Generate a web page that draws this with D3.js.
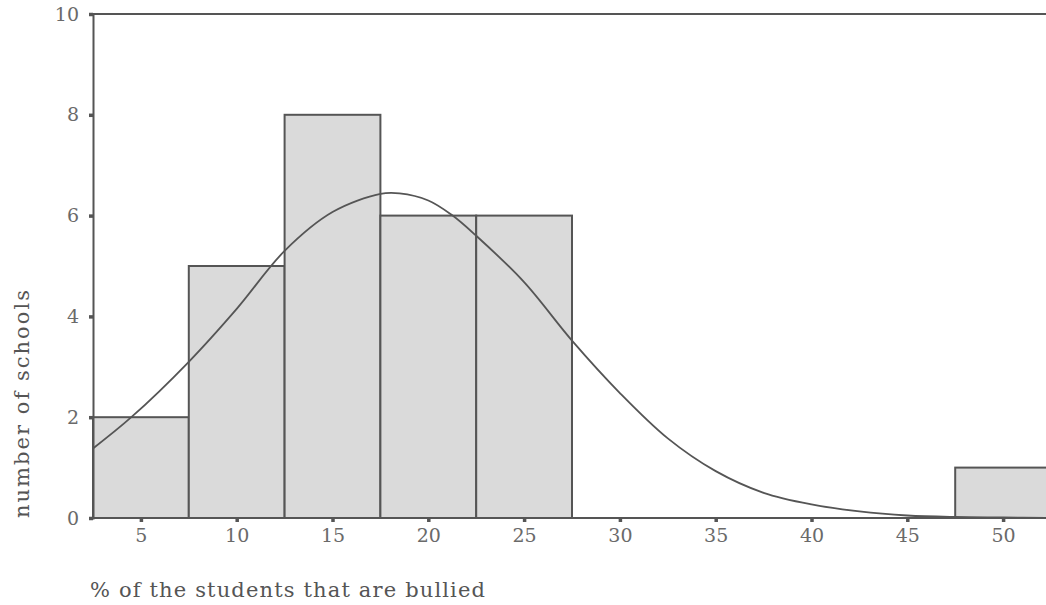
<!DOCTYPE html>
<html>
<head>
<meta charset="utf-8">
<script src="https://cdn.jsdelivr.net/npm/d3@7"></script>
<style>
  body { margin: 0; background: #fff; }
  svg { display: block; }
  text { font-family: "DejaVu Serif", serif; }
</style>
</head>
<body>
<div id="chart"></div>
<script>
// histogram bins (lower edge, number of schools)
var binStarts = [2.5, 7.5, 12.5, 17.5, 22.5, 27.5, 32.5, 37.5, 42.5, 47.5];
var binCounts = [2, 5, 8, 6, 6, 0, 0, 0, 0, 1];
var binWidth = 5;

// fitted normal curve
var curveX = [2.5, 4.5, 7.5, 10, 12.5, 15, 17.5, 18.5, 20, 21.2, 22.5, 25, 27.5, 30, 32.5, 35, 37.5, 40, 42.5, 45, 47.5, 50, 52.5];
var curveY = [1.38, 2.0, 3.1, 4.15, 5.3, 6.07, 6.43, 6.44, 6.3, 6.02, 5.6, 4.68, 3.52, 2.48, 1.58, 0.93, 0.5, 0.27, 0.13, 0.05, 0.02, 0.01, 0];

var xTicks = [5, 10, 15, 20, 25, 30, 35, 40, 45, 50];
var yTicks = [0, 2, 4, 6, 8, 10];

var width = 1046, height = 605;
var margin = {top: 14, left: 93, bottom: 87};

var svg = d3.select("#chart").append("svg")
    .attr("width", width)
    .attr("height", height);

var x = d3.scaleLinear().domain([2.5, 52.5]).range([margin.left, 1051]);
var y = d3.scaleLinear().domain([0, 10]).range([height - margin.bottom, margin.top]);

var ink = "#555";

// bars
svg.append("g")
    .selectAll("rect")
    .data(binStarts.map(function(s, i) { return {x0: s, n: binCounts[i]}; }).filter(function(d) { return d.n > 0; }))
    .enter().append("rect")
    .attr("x", function(d) { return x(d.x0); })
    .attr("y", function(d) { return y(d.n); })
    .attr("width", function(d) { return x(d.x0 + binWidth) - x(d.x0); })
    .attr("height", function(d) { return y(0) - y(d.n); })
    .attr("fill", "#dadada")
    .attr("stroke", ink)
    .attr("stroke-width", 2);

// top of the frame
svg.append("line")
    .attr("x1", x(2.5)).attr("x2", width + 10)
    .attr("y1", y(10)).attr("y2", y(10))
    .attr("stroke", ink).attr("stroke-width", 2);

// normal curve
var line = d3.line()
    .x(function(d) { return x(d[0]); })
    .y(function(d) { return y(d[1]); })
    .curve(d3.curveCatmullRom);

svg.append("path")
    .datum(curveX.map(function(v, i) { return [v, curveY[i]]; }))
    .attr("d", line)
    .attr("fill", "none")
    .attr("stroke", ink)
    .attr("stroke-width", 1.8);

// axes
var xAxis = svg.append("g")
    .attr("transform", "translate(0," + y(0) + ")")
    .call(d3.axisBottom(x).tickValues(xTicks).tickSize(4).tickPadding(7));

var yAxis = svg.append("g")
    .attr("transform", "translate(" + x(2.5) + ",0)")
    .call(d3.axisLeft(y).tickValues(yTicks).tickSize(4).tickPadding(10));

[xAxis, yAxis].forEach(function(a) {
    a.attr("font-family", null).attr("font-size", null);
    a.select(".domain").attr("stroke", ink).attr("stroke-width", 2);
    a.selectAll(".tick line").attr("stroke", ink).attr("stroke-width", 3.5);
    a.selectAll(".tick text")
        .attr("fill", "#6a6a6a")
        .style("font-size", "19px");
});
xAxis.select(".domain").attr("d", "M" + x(2.5) + ",0H" + (width + 10));

// axis titles
svg.append("text")
    .attr("transform", "translate(29,404) rotate(-90)")
    .attr("text-anchor", "middle")
    .attr("fill", ink)
    .attr("textLength", 228)
    .style("font-size", "21px")
    .text("number of schools");

svg.append("text")
    .attr("x", 90)
    .attr("y", 597)
    .attr("fill", ink)
    .attr("textLength", 395)
    .style("font-size", "21px")
    .text("% of the students that are bullied");
</script>
</body>
</html>
